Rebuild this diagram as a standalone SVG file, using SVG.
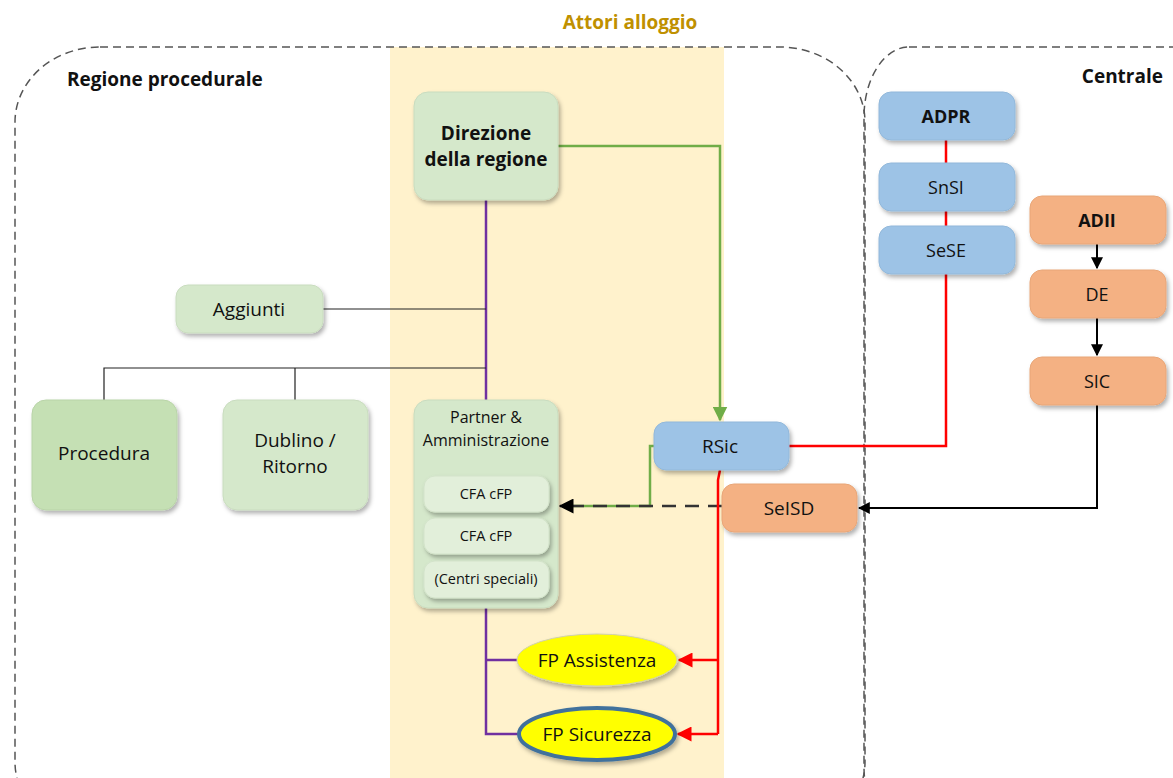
<svg xmlns="http://www.w3.org/2000/svg" width="1173" height="778" viewBox="0 0 1173 778">
<defs>
<filter id="sh" x="-20%" y="-20%" width="140%" height="150%">
<feDropShadow dx="2" dy="3" stdDeviation="2" flood-color="#000" flood-opacity="0.3"/>
</filter>
<marker id="ab" viewBox="0 0 10 10" refX="9" refY="5" markerWidth="6" markerHeight="6" orient="auto"><path d="M0,0 L10,5 L0,10 z" fill="#000"/></marker>
<marker id="ar" viewBox="0 0 10 10" refX="9" refY="5" markerWidth="6" markerHeight="6" orient="auto"><path d="M0,0 L10,5 L0,10 z" fill="#ff0000"/></marker>
<marker id="ag" viewBox="0 0 10 10" refX="9" refY="5" markerWidth="6" markerHeight="6" orient="auto"><path d="M0,0 L10,5 L0,10 z" fill="#70ad47"/></marker>
<style>
text{font-family:"Open Sans","Liberation Sans",sans-serif;fill:#111;text-anchor:middle}
.b{font-weight:bold}
.m{font-size:19px}
.s{font-size:18px}
.p{font-size:16px}
.x{font-size:14.5px}
.g{fill:#d5e8cb;stroke:#c9dcbf;stroke-width:1;filter:url(#sh)}
.gd{fill:#c5e0b4;stroke:#b9d4a8;stroke-width:1;filter:url(#sh)}
.gl{fill:#e2efda;stroke:#d3e3ca;stroke-width:1;filter:url(#sh)}
.bl{fill:#9dc3e6;stroke:#92b8da;stroke-width:1;filter:url(#sh)}
.or{fill:#f4b183;stroke:#e8a678;stroke-width:1;filter:url(#sh)}
.reg{fill:none;stroke:#555;stroke-width:1.5;stroke-dasharray:8 5}
.c{fill:none}
</style>
</defs>
<rect x="390" y="47" width="334" height="731" fill="#fff2cc"/>
<rect class="reg" x="15" y="47" width="850" height="790" rx="85" ry="75"/>
<rect class="reg" x="864" y="47" width="400" height="790" rx="45" ry="70"/>
<text x="630" y="29" class="b m" style="fill:#bf9000">Attori alloggio</text>
<text x="67" y="86" class="b m" style="text-anchor:start">Regione procedurale</text>
<text x="1163" y="83" class="b m" style="text-anchor:end">Centrale</text>
<g id="connectors">
<path class="c" d="M486,200 V400" stroke="#7030a0" stroke-width="2.5"/>
<path class="c" d="M486,608 V734 H519 M486,660 H517" stroke="#7030a0" stroke-width="2.5"/>
<path class="c" d="M323,309 H486" stroke="#222" stroke-width="1.2"/>
<path class="c" d="M486,368 H104 V400 M295,368 V400" stroke="#222" stroke-width="1.2"/>
<path class="c" d="M558,146 H720 V420" stroke="#70ad47" stroke-width="2.5" marker-end="url(#ag)"/>
<path class="c" d="M654,446 H650 V506 H565" stroke="#70ad47" stroke-width="2.5"/>
<path class="c" d="M722,506 H560" stroke="#333" stroke-width="2.5" stroke-dasharray="14 9" marker-end="url(#ab)"/>
<path class="c" d="M789,446 H946 V274" stroke="#ff0000" stroke-width="2.5"/>
<path class="c" d="M946,140 V163 M946,211 V226" stroke="#ff0000" stroke-width="2.5"/>
<path class="c" d="M720,470 L718,480 V734" stroke="#ff0000" stroke-width="2.5"/>
<path class="c" d="M718,660 H679" stroke="#ff0000" stroke-width="2.5" marker-end="url(#ar)"/>
<path class="c" d="M718,734 H678" stroke="#ff0000" stroke-width="2.5" marker-end="url(#ar)"/>
<path class="c" d="M1097,244 V268" stroke="#000" stroke-width="2" marker-end="url(#ab)"/>
<path class="c" d="M1097,318 V355" stroke="#000" stroke-width="2" marker-end="url(#ab)"/>
<path class="c" d="M1097,405 V508 H859" stroke="#000" stroke-width="2" marker-end="url(#ab)"/>
</g>
<g id="direzione"><rect class="g" x="414" y="92" width="144" height="108" rx="14"/><text x="486" y="140" class="b m">Direzione</text><text x="486" y="166" class="b m">della regione</text></g>
<g id="aggiunti"><rect class="g" x="176" y="285" width="147" height="48" rx="12"/><text x="249" y="316" class="m">Aggiunti</text></g>
<g id="procedura"><rect class="gd" x="32" y="400" width="145" height="110" rx="14"/><text x="104" y="460" class="m">Procedura</text></g>
<g id="dublino"><rect class="g" x="223" y="400" width="145" height="110" rx="14"/><text x="295" y="447" class="m">Dublino /</text><text x="295" y="473" class="m">Ritorno</text></g>
<g id="partner"><rect class="g" x="414" y="400" width="144" height="208" rx="14"/><text x="486" y="423" class="p">Partner &amp;</text><text x="486" y="446" class="p">Amministrazione</text></g>
<g id="cfa1"><rect class="gl" x="424" y="476" width="125" height="36" rx="11"/><text x="486" y="499" class="x">CFA cFP</text></g>
<g id="cfa2"><rect class="gl" x="424" y="518" width="125" height="36" rx="11"/><text x="486" y="541" class="x">CFA cFP</text></g>
<g id="centri"><rect class="gl" x="424" y="561" width="125" height="37" rx="11"/><text x="486" y="584" class="x">(Centri speciali)</text></g>
<g id="rsic"><rect class="bl" x="654" y="422" width="135" height="48" rx="12"/><text x="720" y="453" class="m">RSic</text></g>
<g id="seisd"><rect class="or" x="722" y="484" width="135" height="48" rx="12"/><text x="789" y="515" class="m">SeISD</text></g>
<g id="adpr"><rect class="bl" x="879" y="92" width="136" height="48" rx="12"/><text x="946" y="123" class="b s">ADPR</text></g>
<g id="snsi"><rect class="bl" x="879" y="163" width="136" height="48" rx="12"/><text x="946" y="194" class="s">SnSI</text></g>
<g id="sese"><rect class="bl" x="879" y="226" width="136" height="48" rx="12"/><text x="946" y="257" class="s">SeSE</text></g>
<g id="adii"><rect class="or" x="1030" y="196" width="136" height="48" rx="12"/><text x="1097" y="227" class="b s">ADII</text></g>
<g id="de"><rect class="or" x="1030" y="270" width="136" height="48" rx="12"/><text x="1097" y="301" class="s">DE</text></g>
<g id="sic"><rect class="or" x="1030" y="357" width="136" height="48" rx="12"/><text x="1097" y="388" class="s">SIC</text></g>
<g id="fpassistenza"><ellipse cx="597" cy="660" rx="80" ry="26" fill="#ffff00" stroke="#d0d0b0" stroke-width="1" filter="url(#sh)"/><text x="597" y="667" class="m">FP Assistenza</text></g>
<g id="fpsicurezza"><ellipse cx="597" cy="734" rx="78" ry="26" fill="#ffff00" stroke="#41719c" stroke-width="4" filter="url(#sh)"/><text x="597" y="741" class="m">FP Sicurezza</text></g>
</svg>
